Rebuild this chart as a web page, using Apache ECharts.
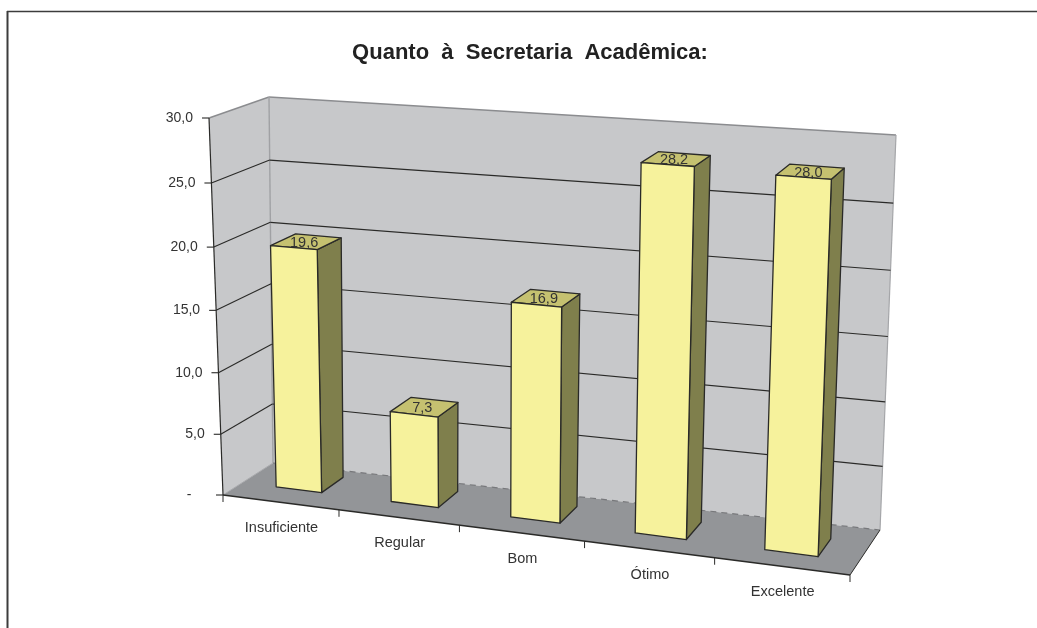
<!DOCTYPE html>
<html><head><meta charset="utf-8">
<style>html,body{margin:0;padding:0;background:#fff}#c{width:1037px;height:628px}</style>
<script src="https://cdn.jsdelivr.net/npm/echarts@6/dist/echarts.min.js"></script>
</head><body><div id="c"></div>
<script>
const categories = ['Insuficiente','Regular','Bom','Ótimo','Excelente'];
const values = [19.6,7.3,16.9,28.2,28.0];
const valueLabels = ['19,6','7,3','16,9','28,2','28,0'];
const tickValues = [0,5,10,15,20,25,30];
const tickLabels = ['-    ','5,0','10,0','15,0','20,0','25,0','30,0'];
const titleText = 'Quanto  à  Secretaria  Acadêmica:';

// 3D box of the plot: screen position of its eight corners
const box = {
  fb0:[223,495], fb1:[850,575], bb0:[273,463], bb1:[880,530],
  ft0:[209,118], ft1:[866,162], bt0:[269,97],  bt1:[896,135]
};
const lerp=(a,b,t)=>[a[0]+(b[0]-a[0])*t,a[1]+(b[1]-a[1])*t];
const warp=(t,c)=>t*(1-c)/(1-c*t);
const U=0.092, H=0.04, BAR=0.40;
function proj(u,d,t){
  const a=warp(u,U), h=warp(t,H);
  const bot=lerp(lerp(box.fb0,box.fb1,a),lerp(box.bb0,box.bb1,a),d);
  const top=lerp(lerp(box.ft0,box.ft1,a),lerp(box.bt0,box.bt1,a),d);
  return lerp(bot,top,h);
}
const nearD=u=>0.39-0.10*warp(u,U), farD=u=>0.85-0.16*warp(u,U);
function norm(params,api,cat,val){
  const s=params.coordSys, p=api.coord([cat,val]);
  return {u:(p[0]-s.x)/s.width, t:(s.y+s.height-p[1])/s.height, bu:api.size([1,0])[0]/s.width};
}
const line=(a,b,stroke,w,dash)=>({type:'line',shape:{x1:a[0],y1:a[1],x2:b[0],y2:b[1]},style:{stroke,lineWidth:w||1,lineDash:dash||null,fill:null},silent:true});
const poly=(pts,fill,stroke,w)=>({type:'polygon',shape:{points:pts},style:{fill,stroke:stroke||null,lineWidth:w||0,lineJoin:'round'},silent:true});
const label=(p,text,align,size,vA)=>({type:'text',x:p[0],y:p[1],style:{text,fill:'#333',font:(size||14)+'px "Liberation Sans",Arial,sans-serif',align:align,verticalAlign:vA||'middle'},silent:true});

const WALL='#c7c8ca', FLOOR='#939598', EDGE='#8b8c8f', INK='#2a2a28';

function renderWalls(){
  const c=[];
  c.push(poly([proj(0,0,0),proj(0,1,0),proj(0,1,1),proj(0,0,1)],WALL));
  c.push(poly([proj(0,1,0),proj(1,1,0),proj(1,1,1),proj(0,1,1)],WALL));
  c.push(poly([proj(0,0,0),proj(1,0,0),proj(1,1,0),proj(0,1,0)],FLOOR));
  c.push(line(proj(0,0,1),proj(0,1,1),EDGE,1.4));
  c.push(line(proj(0,1,1),proj(1,1,1),EDGE,1.4));
  c.push(line(proj(1,1,1),proj(1,1,0),'#a5a6a9',1.2));
  c.push(line(proj(0,1,1),proj(0,1,0),'#a0a1a4',1.4));
  c.push(line(proj(0,0,0),proj(0,1,0),'#a9aaad',1));
  c.push(line(proj(0,1,0),proj(1,1,0),'#77787b',1.2,[6,5]));
  c.push(line(proj(0,0,0),proj(0,0,1),INK,1.2));
  c.push(line(proj(0,0,0),proj(1,0,0),INK,1.3));
  c.push(line(proj(1,0,0),proj(1,1,0),INK,1));
  return {type:'group',children:c};
}
function renderGrid(params,api){
  const v=api.value(1), t=norm(params,api,0,v).t, c=[];
  const f=proj(0,0,t), b=proj(0,1,t), r=proj(1,1,t);
  c.push(line([f[0]-7,f[1]],f,INK,1.1));
  if(v>0 && v<30){ c.push(line(f,b,INK,1.1)); c.push(line(b,r,INK,1.1)); }
  c.push(label([f[0]-16,f[1]],tickLabels[params.dataIndex],'right'));
  return {type:'group',children:c};
}
function renderTicks(params,api){
  const i=api.value(0), n=norm(params,api,i,0), c=[];
  const left=n.u-n.bu/2, right=n.u+n.bu/2;
  const a=proj(left,0,0), b=proj(right,0,0), m=proj(n.u,0,0);
  if(i===0) c.push(line(a,[a[0],a[1]+7],INK,1));
  c.push(line(b,[b[0],b[1]+7],INK,1));
  c.push(label([m[0]+1,m[1]+26],categories[i],'center',14.5));
  return {type:'group',children:c};
}
function renderBar(params,api){
  const i=api.value(0), v=api.value(1), n=norm(params,api,i,v);
  const u0=n.u-n.bu*BAR/2, u1=n.u+n.bu*BAR/2;
  const P=(u,far,t)=>proj(u,far?farD(u):nearD(u),t);
  const fl0=P(u0,0,0),fr0=P(u1,0,0),br0=P(u1,1,0);
  const fl1=P(u0,0,n.t),fr1=P(u1,0,n.t),br1=P(u1,1,n.t),bl1=P(u0,1,n.t);
  const S=INK, W=1.3;
  const mid=lerp(lerp(fl1,fr1,0.5),lerp(bl1,br1,0.5),0.5);
  return {type:'group',children:[
    poly([fr0,br0,br1,fr1],'#7f7f4c',S,W),
    poly([fl1,fr1,br1,bl1],'#c5c170',S,W),
    poly([fl0,fr0,fr1,fl1],'#f6f29c',S,W),
    label([mid[0]-2,mid[1]+1],valueLabels[params.dataIndex],'center',14.5)
  ]};
}
const clipOff={clip:false,silent:true,animation:false,z:2};
const chart=echarts.init(document.getElementById('c'),null,{renderer:'canvas'});
chart.setOption({
  animation:false,
  backgroundColor:'#fff',
  title:{text:titleText,left:530,top:37,textAlign:'center',
    textStyle:{fontFamily:'"Liberation Sans",Arial,sans-serif',fontSize:22,fontWeight:'bold',color:'#222'},
    padding:[5,10,5,0]},
  grid:{left:223,right:187,top:118,bottom:133},
  xAxis:{type:'category',data:categories,show:false},
  yAxis:{type:'value',min:0,max:30,interval:5,show:false},
  graphic:[
    {type:'line',shape:{x1:7.5,y1:11,x2:7.5,y2:628},style:{stroke:'#3c3c3c',lineWidth:2}},
    {type:'line',shape:{x1:7,y1:11.5,x2:1037,y2:11.5},style:{stroke:'#3c3c3c',lineWidth:1.6}}
  ],
  series:[
    Object.assign({type:'custom',name:'walls',data:[[0,0]],renderItem:renderWalls},clipOff),
    Object.assign({type:'custom',name:'grid',data:tickValues.map(v=>[0,v]),renderItem:renderGrid},clipOff),
    Object.assign({type:'custom',name:'ticks',data:categories.map((c,i)=>[i,0]),renderItem:renderTicks},clipOff),
    Object.assign({type:'custom',name:'bars',data:values.map((v,i)=>[i,v]),renderItem:renderBar},clipOff)
  ]
});
</script></body></html>
